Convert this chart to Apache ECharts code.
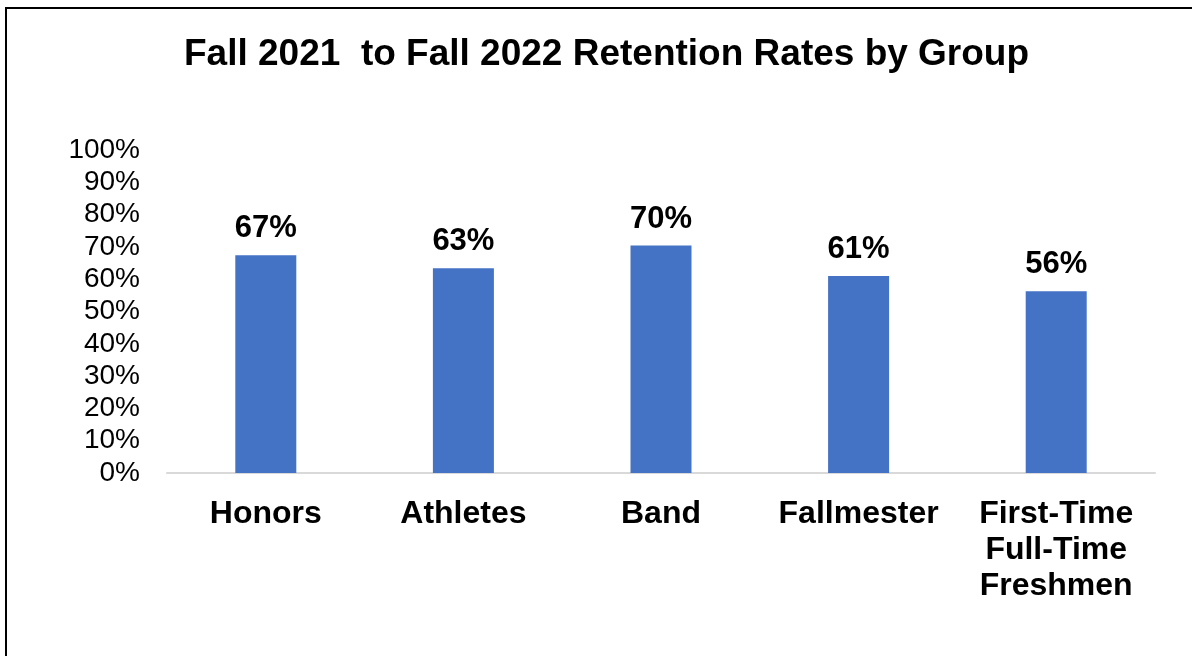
<!DOCTYPE html>
<html>
<head>
<meta charset="utf-8">
<script src="https://cdn.jsdelivr.net/npm/echarts@6/dist/echarts.min.js"></script>
<style>
  html, body { margin: 0; padding: 0; background: #fff; }
  #chart { width: 1192px; height: 656px; }
</style>
</head>
<body>
<div id="chart"></div>
<script>
// data
var groups = ['Honors', 'Athletes', 'Band', 'Fallmester', 'First-Time\nFull-Time\nFreshmen']
var rates = [67.4, 63.4, 70.4, 61.0, 56.3]
var titleText = 'Fall 2021  to Fall 2022 Retention Rates by Group'

var myChart = echarts.init(document.getElementById('chart'))
var font = '"Liberation Sans", Arial, sans-serif'

const option = {
  animation: false,
  title: {
    text: titleText,
    left: 179,
    top: 31,
    textStyle: {
      fontFamily: font,
      fontSize: 37,
      fontWeight: 'bold',
      color: '#000'
    }
  },
  graphic: [{
    type: 'rect',
    shape: { x: 6, y: 8, width: 1400, height: 900 },
    style: { fill: 'none', stroke: '#000', lineWidth: 2 },
    silent: true
  }],
  grid: {
    left: 167,
    right: 37,
    top: 150,
    bottom: 183
  },
  xAxis: {
    type: 'category',
    data: groups,
    axisLine: { lineStyle: { color: '#d9d9d9', width: 2 } },
    axisTick: { show: false },
    axisLabel: {
      interval: 0,
      margin: 23,
      fontFamily: font,
      fontSize: 32,
      fontWeight: 'bold',
      color: '#000',
      lineHeight: 36
    }
  },
  yAxis: {
    type: 'value',
    min: 0,
    max: 100,
    interval: 10,
    axisLine: { show: false },
    axisTick: { show: false },
    splitLine: { show: false },
    axisLabel: {
      margin: 27,
      formatter: '{value}%',
      fontFamily: font,
      fontSize: 28,
      color: '#000'
    }
  },
  series: [{
    type: 'bar',
    data: rates,
    barWidth: 61,
    itemStyle: { color: '#4472C4' },
    label: {
      show: true,
      position: 'top',
      distance: 11,
      formatter: function (p) { return Math.round(p.value) + '%' },
      fontFamily: font,
      fontSize: 31,
      fontWeight: 'bold',
      color: '#000'
    }
  }]
}

myChart.setOption(option)
</script>
</body>
</html>
